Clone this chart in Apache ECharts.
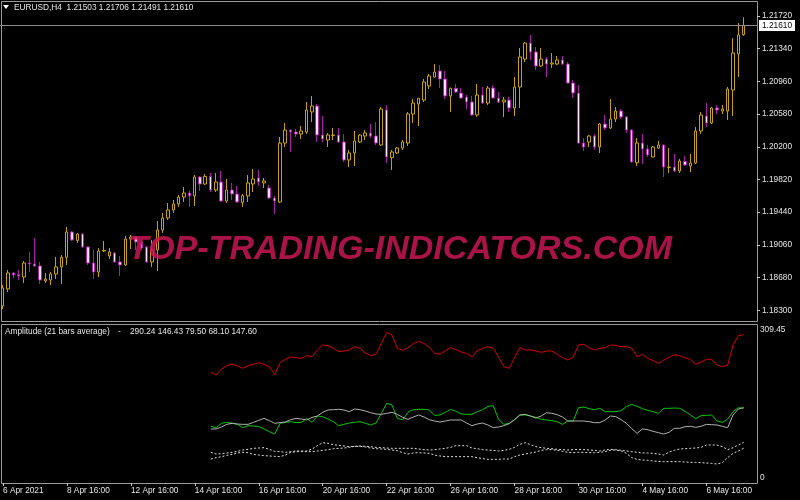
<!DOCTYPE html>
<html>
<head>
<meta charset="utf-8">
<script src="https://cdn.jsdelivr.net/npm/echarts@6/dist/echarts.min.js"></script>
<style>
html, body { margin: 0; padding: 0; background: #000; }
#chart { width: 800px; height: 500px; }
</style>
</head>
<body>
<div id="chart"></div>
<script>
// EURUSD H4, first visible bar 6 Apr 16:00
var days = ['6 Apr','7 Apr','8 Apr','9 Apr','12 Apr','13 Apr','14 Apr','15 Apr','16 Apr','19 Apr','20 Apr','21 Apr',
  '22 Apr','23 Apr','26 Apr','27 Apr','28 Apr','29 Apr','30 Apr','3 May','4 May','5 May','6 May','7 May'];
var hours = ['00:00','04:00','08:00','12:00','16:00','20:00'];

var tickBars = [0, 12, 24, 36, 48, 60, 72, 84, 96, 108, 120, 132];
var tickLabels = ['6 Apr 2021','8 Apr 16:00','12 Apr 16:00','14 Apr 16:00','16 Apr 16:00','20 Apr 16:00',
  '22 Apr 16:00','26 Apr 16:00','28 Apr 16:00','30 Apr 16:00','4 May 16:00','6 May 16:00'];

var priceTicks = [1.18300, 1.18680, 1.19060, 1.19440, 1.19820, 1.20200, 1.20580, 1.20960, 1.21340, 1.21720];

var opens = [
  1.18350,1.18548,1.18734,1.18715,1.18687,1.18850,1.18838,1.18815,1.18641,1.18652,
  1.18722,1.18804,1.18916,1.19210,1.19112,1.19187,1.19036,1.18850,1.18745,1.18989,
  1.18931,1.18966,1.18862,1.18827,1.19129,1.19152,1.19094,1.19036,1.18862,1.19001,
  1.19233,1.19373,1.19466,1.19536,1.19617,1.19663,1.19629,1.19849,1.19768,1.19855,
  1.19698,1.19791,1.19570,1.19698,1.19652,1.19555,1.19629,1.19768,1.19838,1.19780,
  1.19721,1.19605,1.19559,1.20244,1.20395,1.20372,1.20349,1.20372,1.20605,1.20674,
  1.20337,1.20279,1.20331,1.20337,1.20256,1.20047,1.20128,1.20256,1.20326,1.20361,
  1.20326,1.20221,1.20628,1.20074,1.20128,1.20186,1.20244,1.20581,1.20698,1.20744,
  1.20907,1.21011,1.21081,1.20988,1.20791,1.20880,1.20825,1.20779,1.20721,1.20570,
  1.20802,1.20709,1.20883,1.20767,1.20721,1.20744,1.20651,1.20895,1.21220,1.21406,
  1.21302,1.21139,1.21220,1.21162,1.21162,1.21209,1.21162,1.20942,1.20825,1.20244,
  1.20256,1.20326,1.20198,1.20465,1.20419,1.20523,1.20616,1.20547,1.20395,1.20015,
  1.20244,1.20175,1.20082,1.20186,1.20221,1.19960,1.19965,1.19919,1.20030,1.19977,
  1.20012,1.20384,1.20558,1.20477,1.20651,1.20616,1.20616,1.20860,1.21279,1.21503
];
var highs = [
  1.18594,1.18769,1.18745,1.18769,1.18873,1.18978,1.19140,1.18862,1.18734,1.18745,
  1.18920,1.18943,1.19268,1.19222,1.19199,1.19199,1.19042,1.19001,1.19024,1.19106,
  1.19024,1.18978,1.18931,1.19164,1.19175,1.19164,1.19117,1.19048,1.19117,1.19338,
  1.19431,1.19547,1.19582,1.19640,1.19733,1.19687,1.19873,1.19861,1.19884,1.19896,
  1.19896,1.19919,1.19826,1.19780,1.19745,1.19652,1.19873,1.19942,1.19931,1.19838,
  1.19756,1.19629,1.20314,1.20477,1.20401,1.20407,1.20442,1.20721,1.20791,1.20698,
  1.20558,1.20361,1.20419,1.20419,1.20349,1.20163,1.20384,1.20349,1.20395,1.20465,
  1.20488,1.20663,1.20686,1.20163,1.20198,1.20279,1.20605,1.20756,1.20767,1.20988,
  1.21046,1.21162,1.21151,1.21081,1.20887,1.20930,1.20887,1.20802,1.20791,1.20930,
  1.20895,1.20907,1.20918,1.20837,1.20779,1.20779,1.21011,1.21348,1.21418,1.21499,
  1.21360,1.21348,1.21244,1.21290,1.21255,1.21255,1.21186,1.20976,1.20918,1.20302,
  1.20337,1.20349,1.20477,1.20570,1.20756,1.20663,1.20639,1.20558,1.20407,1.20302,
  1.20349,1.20221,1.20210,1.20268,1.20227,1.20186,1.20117,1.20058,1.20093,1.20117,
  1.20430,1.20605,1.20709,1.20663,1.20686,1.20686,1.20895,1.21464,1.21639,1.21706
];
var lows = [
  1.18315,1.18513,1.18676,1.18652,1.18618,1.18745,1.18804,1.18606,1.18618,1.18594,
  1.18664,1.18606,1.18827,1.19106,1.19082,1.19024,1.18827,1.18664,1.18687,1.18978,
  1.18896,1.18850,1.18699,1.18815,1.19013,1.19001,1.19001,1.18850,1.18804,1.18757,
  1.19199,1.19350,1.19431,1.19501,1.19559,1.19501,1.19512,1.19687,1.19756,1.19675,
  1.19675,1.19559,1.19547,1.19582,1.19547,1.19501,1.19559,1.19675,1.19745,1.19721,
  1.19594,1.19419,1.19547,1.20198,1.20140,1.20314,1.20291,1.20349,1.20488,1.20256,
  1.20256,1.20198,1.20279,1.20244,1.20024,1.19965,1.19977,1.20244,1.20279,1.20302,
  1.20221,1.20210,1.20012,1.19931,1.20117,1.20163,1.20210,1.20477,1.20442,1.20721,
  1.20872,1.21005,1.20883,1.20756,1.20605,1.20825,1.20760,1.20639,1.20558,1.20547,
  1.20698,1.20686,1.20760,1.20709,1.20547,1.20605,1.20558,1.20651,1.21186,1.21209,
  1.21093,1.21127,1.21011,1.21116,1.21151,1.21151,1.20936,1.20767,1.20233,1.20151,
  1.20198,1.20163,1.20128,1.20395,1.20407,1.20488,1.20523,1.20361,1.20012,1.19977,
  1.20000,1.20082,1.20076,1.20175,1.19849,1.19896,1.19907,1.19896,1.19977,1.19907,
  1.20000,1.20349,1.20430,1.20465,1.20581,1.20581,1.20512,1.20558,1.21011,1.21491
];
var closes = [
  1.18559,1.18734,1.18711,1.18699,1.18850,1.18838,1.18815,1.18652,1.18664,1.18722,
  1.18804,1.18916,1.19210,1.19117,1.19187,1.19036,1.18850,1.18745,1.18989,1.18995,
  1.18978,1.18862,1.18827,1.19129,1.19152,1.19094,1.19024,1.18862,1.19001,1.19233,
  1.19373,1.19466,1.19536,1.19617,1.19663,1.19629,1.19849,1.19768,1.19855,1.19698,
  1.19791,1.19570,1.19698,1.19652,1.19559,1.19632,1.19780,1.19826,1.19791,1.19803,
  1.19605,1.19570,1.20244,1.20395,1.20372,1.20349,1.20384,1.20628,1.20674,1.20337,
  1.20291,1.20337,1.20337,1.20256,1.20047,1.20128,1.20268,1.20337,1.20361,1.20326,
  1.20244,1.20639,1.20082,1.20140,1.20186,1.20256,1.20581,1.20709,1.20764,1.20953,
  1.21023,1.21069,1.20988,1.20791,1.20880,1.20837,1.20767,1.20721,1.20570,1.20802,
  1.20709,1.20883,1.20767,1.20721,1.20744,1.20651,1.20895,1.21244,1.21406,1.21302,
  1.21139,1.21220,1.21162,1.21174,1.21209,1.21162,1.20942,1.20825,1.20244,1.20198,
  1.20326,1.20198,1.20465,1.20419,1.20523,1.20616,1.20547,1.20395,1.20024,1.20244,
  1.20175,1.20105,1.20198,1.20221,1.19965,1.19965,1.19919,1.20035,1.19989,1.20012,
  1.20384,1.20570,1.20477,1.20651,1.20628,1.20639,1.20872,1.21290,1.21499,1.21610
];

// Amplitude (21 bars average) buffers, drawn from bar 39 on
var ampStart = 39;
var ampMax = 309.45;
var ampRed = [
  216.7,211.5,223.3,229.8,233.0,229.1,224.6,229.8,232.4,235.7,
  232.4,227.8,212.8,235.7,242.2,246.8,245.5,244.1,249.4,247.4,
  260.5,270.3,268.9,263.7,257.2,258.5,260.5,267.0,263.7,254.6,
  249.4,252.0,273.5,295.1,289.8,263.7,259.8,265.0,272.9,277.4,
  273.5,265.7,253.9,252.0,259.2,265.0,261.1,256.5,253.9,246.8,
  259.2,263.7,267.0,263.7,246.8,227.8,224.6,245.5,265.0,260.5,
  260.5,258.5,255.9,258.5,258.5,252.0,245.5,240.9,246.1,270.3,
  271.6,265.0,260.5,263.7,265.0,270.3,269.6,267.0,267.0,263.7,
  247.4,252.0,244.1,239.6,234.4,240.9,246.1,251.3,249.4,244.8,
  242.2,232.4,237.0,242.2,242.2,231.1,227.8,231.1,270.3,288.5,
  290.24
];
var ampGreen = [
  111.0,108.4,116.9,118.8,116.9,114.9,108.4,112.3,111.6,110.3,
  105.8,100.5,96.0,116.9,118.8,120.1,118.2,118.8,126.6,118.8,
  131.2,129.9,125.3,120.1,112.3,114.9,117.5,118.8,120.1,116.9,
  113.6,117.5,136.4,156.0,152.8,126.6,124.0,138.4,143.6,144.3,
  144.3,143.0,132.5,133.2,138.4,144.3,140.4,135.1,134.5,134.5,
  139.7,143.6,150.1,151.4,124.7,114.9,116.9,124.0,133.2,133.2,
  131.2,128.6,124.7,123.4,122.1,120.1,114.9,121.4,121.4,147.5,
  148.8,145.6,143.6,146.2,139.7,139.7,139.7,141.7,149.5,154.1,
  150.1,145.6,142.3,139.7,136.4,146.2,146.2,146.9,146.2,140.4,
  133.2,126.0,131.9,132.5,133.2,121.4,118.8,125.3,139.7,147.5,
  146.43
];
var ampUpper = [
  60.1,56.8,57.4,58.8,60.1,62.0,64.6,65.9,67.9,68.5,
  69.2,65.9,62.0,61.4,60.1,61.4,62.7,62.7,62.7,66.6,
  73.1,79.0,77.7,75.1,73.8,72.5,71.2,71.8,72.5,71.8,
  71.2,69.8,69.2,68.5,67.9,67.9,67.9,67.9,67.9,66.6,
  65.3,64.6,65.3,66.6,67.9,69.8,73.1,73.1,73.1,68.5,
  67.2,65.3,64.6,64.0,62.7,64.0,65.9,69.8,75.7,79.0,
  75.1,71.2,69.2,67.9,67.2,65.9,65.3,64.6,65.3,65.9,
  65.3,64.6,64.0,62.7,64.6,65.9,65.3,64.0,62.7,61.4,
  60.1,58.8,58.8,58.1,56.8,54.8,60.7,64.0,66.6,67.2,
  67.9,68.5,69.8,74.4,74.4,74.4,71.2,65.3,69.2,74.4,
  79.50
];
var ampLower = [
  47.0,49.6,51.6,54.2,56.1,58.8,60.1,59.4,56.1,54.8,
  53.5,52.9,52.2,51.6,54.8,60.1,61.4,61.4,61.4,61.4,
  62.7,64.0,65.3,67.2,67.9,68.5,69.8,71.8,71.8,70.5,
  68.5,67.2,66.6,65.9,64.6,63.3,59.4,56.8,58.8,59.4,
  58.8,58.1,54.8,52.9,51.6,51.6,51.6,51.6,51.6,51.6,
  49.6,47.7,46.3,46.3,46.3,47.0,47.0,51.6,54.8,56.8,
  58.8,60.7,64.0,65.3,65.3,64.0,62.0,60.1,59.4,60.1,
  60.1,59.4,59.4,60.1,61.4,64.0,64.6,62.7,58.1,49.6,
  46.3,45.0,44.4,43.1,42.4,41.8,41.8,41.8,41.8,41.1,
  40.5,40.5,39.8,39.2,38.5,37.2,39.8,49.6,58.1,62.7,
  68.10
];
var ampGray = [
  105.8,105.8,109.7,114.9,116.9,115.5,114.9,114.9,118.8,122.7,
  126.6,122.1,116.9,118.2,119.5,124.0,126.6,125.3,123.4,128.6,
  131.2,138.4,143.0,143.6,144.3,143.0,139.7,144.9,143.6,141.0,
  137.7,135.1,134.5,136.4,138.4,134.5,128.6,124.7,129.3,133.2,
  129.3,124.0,121.4,119.5,121.4,123.4,123.4,123.4,117.5,112.3,
  115.5,117.5,113.6,108.4,109.7,112.3,116.2,124.0,133.2,134.5,
  131.2,127.3,131.2,137.7,136.4,133.8,129.3,121.4,121.4,121.4,
  121.4,120.1,118.2,118.2,123.4,131.2,129.9,124.0,116.9,106.4,
  97.3,105.8,104.4,101.2,98.6,96.0,99.2,107.1,107.1,110.3,
  111.0,109.0,111.0,114.9,114.2,113.6,111.0,108.4,133.2,144.9,
  147.60
];

var font = '"Liberation Sans", Arial, sans-serif';
var textColor = '#e6e6e6';

var categories = [];
days.forEach(function (d) {
  hours.forEach(function (h) { categories.push(d + ' ' + h); });
});
categories = categories.slice(4);   // starts at 6 Apr 16:00
categories.push('', '');            // chart shift on the right

function padAmp(arr) {
  var out = [];
  for (var i = 0; i < ampStart; i++) out.push(null);
  return out.concat(arr);
}

var candleData = opens.map(function (o, i) {
  return [o, closes[i], lows[i], highs[i]];
});

var last = opens.length - 1;
var headerText = 'EURUSD,H4  ' + [opens[last], highs[last], lows[last], closes[last]].map(function (v) {
  return v.toFixed(5);
}).join(' ');
var ampValues = [ampRed, ampGreen, ampUpper, ampLower, ampGray].map(function (a) {
  return a[a.length - 1].toFixed(2);
}).join(' ');

function isTickBar(index) { return tickBars.indexOf(index) >= 0; }

var chart = echarts.init(document.getElementById('chart'));
chart.setOption({
  backgroundColor: '#000',
  animation: false,
  grid: [
    { left: 0, right: 43, top: 2, height: 320 },
    { left: 0, right: 43, top: 325, height: 158 }
  ],
  xAxis: [
    { type: 'category', gridIndex: 0, data: categories, show: false },
    {
      type: 'category', gridIndex: 1, data: categories,
      axisLine: { show: false },
      axisTick: { show: true, alignWithLabel: true, interval: isTickBar, length: 3, lineStyle: { color: '#c8c8c8' } },
      axisLabel: {
        interval: isTickBar, align: 'left', margin: 4,
        color: textColor, fontSize: 8.3, fontFamily: font,
        formatter: function (v, i) { return tickLabels[tickBars.indexOf(i)] || ''; }
      },
      splitLine: { show: false }
    }
  ],
  yAxis: [
    {
      type: 'value', gridIndex: 0, position: 'right', scale: true,
      min: 1.18164, max: 1.21883,
      splitLine: { show: false }, axisLine: { show: false },
      axisTick: { show: true, customValues: priceTicks, length: 3, lineStyle: { color: '#c8c8c8' } },
      axisLabel: {
        customValues: priceTicks, margin: 5,
        color: textColor, fontSize: 8.3, fontFamily: font,
        formatter: function (v) { return v.toFixed(5); }
      }
    },
    {
      type: 'value', gridIndex: 1, position: 'right',
      min: 0, max: ampMax,
      splitLine: { show: false }, axisLine: { show: false }, axisTick: { show: false },
      axisLabel: {
        customValues: [0, ampMax], margin: 3,
        color: textColor, fontSize: 8.3, fontFamily: font,
        formatter: function (v) { return v === 0 ? '{b|0}' : '{t|' + v.toFixed(2) + '}'; },
        rich: {
          t: { padding: [10, 0, 0, 0], color: textColor, fontSize: 8.3, fontFamily: font },
          b: { padding: [0, 0, 10, 0], color: textColor, fontSize: 8.3, fontFamily: font }
        }
      }
    }
  ],
  series: [
    {
      type: 'candlestick', xAxisIndex: 0, yAxisIndex: 0,
      data: candleData,
      barWidth: 3,
      clip: false,
      itemStyle: {
        color: '#000', color0: '#ffe0ff',
        borderColor: '#c8a000', borderColor0: '#a81ea8', borderWidth: 1
      },
      markLine: {
        silent: true, symbol: 'none', animation: false, precision: 5,
        lineStyle: { color: '#8c8c8c', width: 1, type: 'solid' },
        label: {
          show: true, position: 'end', distance: 2,
          formatter: function () { return closes[last].toFixed(5); },
          color: '#000', backgroundColor: '#fff', padding: [2, 3, 1, 3],
          fontSize: 8.3, fontFamily: font
        },
        data: [{ yAxis: closes[last] }]
      }
    },
    {
      type: 'line', xAxisIndex: 1, yAxisIndex: 1, data: padAmp(ampRed),
      symbol: 'none', lineStyle: { color: '#d40000', width: 1 }
    },
    {
      type: 'line', xAxisIndex: 1, yAxisIndex: 1, data: padAmp(ampGreen),
      symbol: 'none', lineStyle: { color: '#00c800', width: 1 }
    },
    {
      type: 'line', xAxisIndex: 1, yAxisIndex: 1, data: padAmp(ampUpper),
      symbol: 'none', lineStyle: { color: '#e0e0e0', width: 1, type: [2, 2] }
    },
    {
      type: 'line', xAxisIndex: 1, yAxisIndex: 1, data: padAmp(ampLower),
      symbol: 'none', lineStyle: { color: '#e0e0e0', width: 1, type: [2, 2] }
    },
    {
      type: 'line', xAxisIndex: 1, yAxisIndex: 1, data: padAmp(ampGray),
      symbol: 'none', lineStyle: { color: '#b0b0b0', width: 1 }
    }
  ],
  graphic: [
    { type: 'rect', silent: true, z: 0, shape: { x: 1.5, y: 1.5, width: 756, height: 320 },
      style: { fill: 'none', stroke: '#9a9a9a', lineWidth: 1 } },
    { type: 'rect', silent: true, z: 0, shape: { x: 1.5, y: 324.5, width: 756, height: 159 },
      style: { fill: 'none', stroke: '#9a9a9a', lineWidth: 1 } },
    { type: 'polygon', silent: true, shape: { points: [[3, 5], [9, 5], [6, 9]] }, style: { fill: '#fff' } },
    { type: 'text', silent: true, x: 14, y: 8,
      style: { text: headerText, fill: textColor, font: '8.3px ' + font, verticalAlign: 'middle' } },
    { type: 'text', silent: true, x: 5, y: 331.5,
      style: { text: 'Amplitude (21 bars average)', fill: textColor, font: '8.3px ' + font, verticalAlign: 'middle' } },
    { type: 'text', silent: true, x: 118, y: 331.5,
      style: { text: '-', fill: textColor, font: '8.3px ' + font, verticalAlign: 'middle' } },
    { type: 'text', silent: true, x: 130, y: 331.5,
      style: { text: ampValues, fill: textColor, font: '8.3px ' + font, verticalAlign: 'middle' } },
    { type: 'text', silent: true, z: 100, x: 400, y: 250,
      style: {
        text: 'TOP-TRADING-INDICATORS.COM', fill: 'rgba(200, 22, 85, 0.85)',
        font: 'italic bold 34px ' + font, align: 'center', verticalAlign: 'middle'
      } }
  ]
});
</script>
</body>
</html>
